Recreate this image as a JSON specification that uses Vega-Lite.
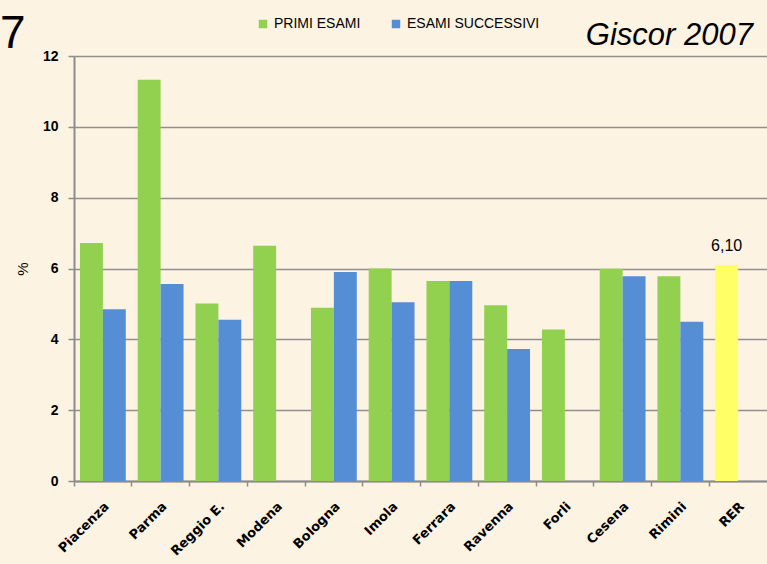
{
  "$schema": "https://vega.github.io/schema/vega-lite/v6.json",
  "autosize": "none",
  "padding": {"left": 74, "top": 56, "right": 0, "bottom": 83},
  "width": 693,
  "height": 425,
  "background": "#fcf3e2",
  "config": {
    "view": {"stroke": null},
    "locale": {"number": {"decimal": ",", "thousands": ".", "grouping": [3], "currency": ["", " €"]}},
    "font": "Liberation Sans"
  },
  "title": {
    "text": "Giscor 2007",
    "anchor": "end",
    "frame": "group",
    "font": "Liberation Sans",
    "fontSize": 31,
    "fontStyle": "italic",
    "fontWeight": "normal",
    "color": "#000000",
    "baseline": "alphabetic",
    "dx": -14,
    "dy": 63
  },
  "data": {
    "values": [
      {"citta": "Piacenza", "serie": "PRIMI ESAMI", "valore": 6.72},
      {"citta": "Piacenza", "serie": "ESAMI SUCCESSIVI", "valore": 4.85},
      {"citta": "Parma", "serie": "PRIMI ESAMI", "valore": 11.33},
      {"citta": "Parma", "serie": "ESAMI SUCCESSIVI", "valore": 5.56},
      {"citta": "Reggio E.", "serie": "PRIMI ESAMI", "valore": 5.01},
      {"citta": "Reggio E.", "serie": "ESAMI SUCCESSIVI", "valore": 4.55},
      {"citta": "Modena", "serie": "PRIMI ESAMI", "valore": 6.64},
      {"citta": "Bologna", "serie": "PRIMI ESAMI", "valore": 4.89},
      {"citta": "Bologna", "serie": "ESAMI SUCCESSIVI", "valore": 5.9},
      {"citta": "Imola", "serie": "PRIMI ESAMI", "valore": 6.0},
      {"citta": "Imola", "serie": "ESAMI SUCCESSIVI", "valore": 5.05},
      {"citta": "Ferrara", "serie": "PRIMI ESAMI", "valore": 5.65},
      {"citta": "Ferrara", "serie": "ESAMI SUCCESSIVI", "valore": 5.65},
      {"citta": "Ravenna", "serie": "PRIMI ESAMI", "valore": 4.96},
      {"citta": "Ravenna", "serie": "ESAMI SUCCESSIVI", "valore": 3.73},
      {"citta": "Forli", "serie": "PRIMI ESAMI", "valore": 4.28},
      {"citta": "Cesena", "serie": "PRIMI ESAMI", "valore": 5.99},
      {"citta": "Cesena", "serie": "ESAMI SUCCESSIVI", "valore": 5.78},
      {"citta": "Rimini", "serie": "PRIMI ESAMI", "valore": 5.78},
      {"citta": "Rimini", "serie": "ESAMI SUCCESSIVI", "valore": 4.5},
      {"citta": "RER", "serie": "PRIMI ESAMI", "valore": 6.1}
    ]
  },
  "encoding": {
    "x": {
      "field": "citta",
      "type": "nominal",
      "sort": null,
      "scale": {"paddingInner": 0, "paddingOuter": 0},
      "axis": {
        "title": null,
        "bandPosition": 0,
        "labelAngle": -45,
        "labelAlign": "right",
        "labelBaseline": "middle",
        "labelFont": "DejaVu Sans",
        "labelFontSize": 13,
        "labelFontWeight": "bold",
        "labelColor": "#000000",
        "labelPadding": 18,
        "labelOffset": 4,
        "tickSize": 5,
        "tickColor": "#8c8c8c",
        "tickWidth": 1.5,
        "domainColor": "#8c8c8c",
        "domainWidth": 2
      }
    },
    "xOffset": {
      "field": "serie",
      "type": "nominal",
      "sort": ["PRIMI ESAMI", "ESAMI SUCCESSIVI"],
      "scale": {"domain": ["PRIMI ESAMI", "ESAMI SUCCESSIVI"], "paddingInner": 0, "paddingOuter": 0.26}
    },
    "y": {
      "field": "valore",
      "type": "quantitative",
      "scale": {"domain": [0, 12], "nice": false},
      "axis": {
        "title": "%",
        "titleFont": "Liberation Sans",
        "titleFontSize": 15,
        "titleFontWeight": "normal",
        "titleColor": "#000000",
        "titlePadding": 12,
        "values": [0, 2, 4, 6, 8, 10, 12],
        "grid": true,
        "gridColor": "#8f8f8f",
        "gridWidth": 1.3,
        "tickSize": 6,
        "tickColor": "#8c8c8c",
        "tickWidth": 1.5,
        "domainColor": "#8c8c8c",
        "domainWidth": 2,
        "labelFont": "Liberation Sans",
        "labelFontSize": 14,
        "labelFontWeight": "bold",
        "labelColor": "#000000",
        "labelPadding": 10
      }
    }
  },
  "layer": [
    {
      "mark": {"type": "bar"},
      "encoding": {
        "color": {
          "condition": {"test": "datum.citta === 'RER'", "value": "#ffff66"},
          "field": "serie",
          "type": "nominal",
          "sort": ["PRIMI ESAMI", "ESAMI SUCCESSIVI"],
          "scale": {"domain": ["PRIMI ESAMI", "ESAMI SUCCESSIVI"], "range": ["#92d050", "#558ed5"]},
          "legend": {
            "title": "7",
            "titleOrient": "left",
            "titleFont": "Liberation Sans",
            "titleFontSize": 46,
            "titleFontWeight": "normal",
            "titleColor": "#000000",
            "titlePadding": 230,
            "titleBaseline": "line-top",
            "titleLineHeight": 22,
            "orient": "none",
            "direction": "horizontal",
            "legendX": -74,
            "legendY": -39,
            "symbolType": "square",
            "symbolSize": 72,
            "symbolStrokeWidth": 0,
            "labelFont": "Liberation Sans",
            "labelFontSize": 14,
            "labelColor": "#000000",
            "labelOffset": 4,
            "columnPadding": 28
          }
        }
      }
    },
    {
      "transform": [{"filter": "datum.citta === 'RER'"}],
      "mark": {"type": "text", "baseline": "bottom", "dy": -11, "fontSize": 16, "font": "Liberation Sans", "color": "#000000"},
      "encoding": {
        "text": {"field": "valore", "type": "quantitative", "format": ".2f"}
      }
    }
  ]
}
